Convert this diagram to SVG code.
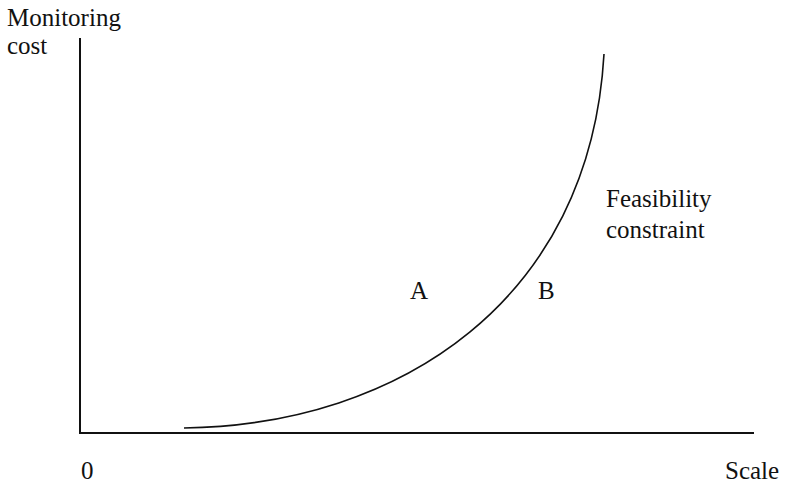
<svg xmlns="http://www.w3.org/2000/svg" width="785" height="484" viewBox="0 0 785 484">
<style>
text{font-family:"Liberation Serif","Times New Roman",serif;font-size:25px;fill:#111}
.ax{stroke:#111;stroke-width:2;fill:none}
.cv{stroke:#111;stroke-width:1.6;fill:none}
</style>
<rect width="785" height="484" fill="#fff"/>
<g id="axes" class="connectors">
<path class="ax" d="M80,38 V433 H754"/>
<path id="curve" class="cv" d="M184,428 C400,425 590,300 604,54"/>
</g>
<g id="labels">
<text x="7" y="26">Monitoring</text>
<text x="7" y="54">cost</text>
<text x="81" y="479">0</text>
<text x="725" y="479">Scale</text>
<text x="606" y="207">Feasibility</text>
<text x="606" y="238">constraint</text>
<text x="410" y="299">A</text>
<text x="538" y="299">B</text>
</g>
</svg>
